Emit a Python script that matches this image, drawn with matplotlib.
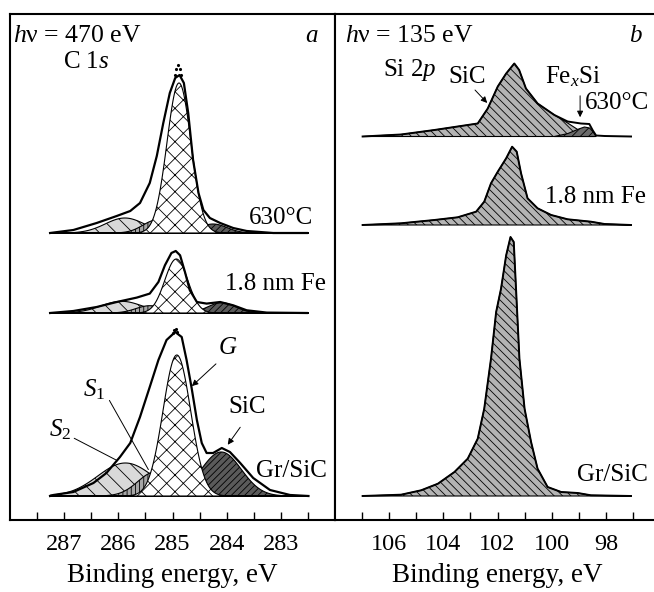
import numpy as np
import matplotlib
matplotlib.use('Agg')
import matplotlib.pyplot as plt

plt.rcParams['font.family'] = ['Liberation Serif', 'DejaVu Serif']
plt.rcParams['mathtext.fontset'] = 'custom'
plt.rcParams['mathtext.rm'] = 'Liberation Serif'
plt.rcParams['mathtext.it'] = 'Liberation Serif:italic'
plt.rcParams['hatch.linewidth'] = 0.6

#-----------------------------------------------------------------------
# C 1s spectra (panel a): binding energy (eV), intensity above baseline (a.u.)
E_c_gr = [287.26, 287.2, 286.83, 286.46, 286.22, 285.97, 285.78, 285.6, 285.42, 285.26,
          285.11, 284.95, 284.83, 284.74, 284.65, 284.55, 284.46, 284.37, 284.25, 284.09,
          283.94, 283.75, 283.51, 283.2, 282.83, 282.49]
I_c_gr = [0, 1, 4, 13, 23, 39, 53, 79, 109, 136, 156, 164, 159, 136, 109, 76, 53, 43, 43, 48,
          44, 33, 18, 6, 1, 0]
E_c_fe = [287.26, 286.83, 286.4, 286.03, 285.66, 285.42, 285.26, 285.14, 285.02, 284.94,
          284.86, 284.77, 284.68, 284.55, 284.37, 284.12, 283.88, 283.63, 283.26, 282.52]
I_c_fe = [0, 2, 6, 11, 15.4, 19.4, 31, 47.7, 60, 62, 57.7, 41, 22.7, 11, 9.4, 11, 7.7, 2.7, 0.4, 0]
E_c_630 = [287.26, 286.83, 286.4, 286.03, 285.78, 285.6, 285.42, 285.29, 285.17, 285.05,
           284.95, 284.87, 284.79, 284.71, 284.62, 284.52, 284.43, 284.31, 284.12, 283.88,
           283.63, 283.14, 282.52]
I_c_630 = [0, 3, 10, 17, 22, 30, 50, 77, 110, 140, 155, 158, 150, 120, 73, 40, 23, 15, 10, 5,
           2, 0, 0]

# measured points standing above the fit at the peak tops
E_dots_gr = [285.0, 284.97, 284.94, 284.91]
I_dots_gr = [163, 166, 167, 164]
E_dots_630 = [284.96, 284.93, 284.90, 284.87, 284.84]
I_dots_630 = [158, 164, 168, 164, 158]

# fitted components, order: S2, S1, SiC, G
comp_center_gr = [285.87, 285.32, 284.10, 284.92]
comp_fwhm_gr = [1.20, 0.75, 0.87, 0.60]
comp_height_gr = [33, 24, 44, 141]
comp_center_fe = [285.94, 285.42, 284.09, 284.93]
comp_fwhm_fe = [0.90, 0.60, 0.60, 0.50]
comp_height_fe = [11.7, 7.3, 10.3, 54]
comp_center_630 = [285.88, 285.29, 284.25, 284.88]
comp_fwhm_630 = [0.85, 0.60, 0.60, 0.52]
comp_height_630 = [15, 13, 9, 150]

c1s_offsets = [24, 207, 287]

#-----------------------------------------------------------------------
# Si 2p spectra (panel b)
E_s_gr = [106.98, 105.56, 104.82, 104.2, 103.59, 103.1, 102.73, 102.49, 102.24, 102.05,
          101.87, 101.68, 101.52, 101.4, 101.31, 101.19, 101.0, 100.76, 100.52, 100.15,
          99.65, 99.04, 98.55, 97.07]
I_s_gr = [0, 1.3, 5.7, 12.3, 24, 37.3, 57.3, 87.3, 137.3, 184, 207.3, 240.7, 259, 254, 204,
          137.3, 87.3, 54, 27.3, 9, 4, 3, 0.7, 0]
E_s_fe = [106.98, 105.56, 104.33, 103.47, 102.79, 102.49, 102.24, 101.99, 101.68, 101.46,
          101.29, 101.13, 100.89, 100.52, 100.02, 99.41, 98.55, 98.05, 97.07]
I_s_fe = [0, 1.7, 5, 7.7, 13.3, 23.3, 41.7, 53.3, 66.7, 78.3, 73.3, 51.7, 26.7, 16.7, 10, 5.7,
          3.3, 1, 0]
E_s_630 = [106.98, 105.56, 104.33, 103.47, 102.73, 102.36, 101.99, 101.68, 101.38, 101.2,
           100.95, 100.52, 99.9, 99.41, 98.92, 98.61, 98.48, 98.36, 98.05, 97.07]
I_s_630 = [0, 2, 6.5, 10, 13, 28, 50, 63, 73, 66.5, 48, 33, 21.5, 15, 13, 12.5, 6, 1, 0.5, 0]
E_sic_630 = [106.98, 105.56, 104.33, 103.47, 102.73, 102.36, 101.99, 101.68, 101.38, 101.2,
             100.95, 100.52, 99.9, 99.41, 99.04, 98.67, 98.42]
I_sic_630 = [0, 2, 6.5, 10, 13, 28, 50, 63, 73, 66.5, 48, 33, 21.5, 13.5, 7, 2, 0]
E_fexsi_630 = [99.9, 99.4, 99.0, 98.79, 98.6, 98.45, 98.36]
I_fexsi_630 = [0, 3, 7.5, 9.5, 8.5, 4, 0]

si_offsets = [24, 295, 383.5]

#-----------------------------------------------------------------------
def gauss(E, c, w, h):
    return h*np.exp(-4*np.log(2)*(E-c)**2/w**2)

comp_face = ['#d9d9d9', '#a6a6a6', '#5a5a5a', 'white']
comp_hatch = ['\\\\', '||||', '/////', 'xx']

fig = plt.figure(figsize=(6.54, 5.92), dpi=100)
axa = fig.add_axes([10/654, 72/592, 325/654, 506/592])
axb = fig.add_axes([335/654, 72/592, 325/654, 506/592])

Eg = np.linspace(287.26, 282.49, 500)
c1s_env = [(E_c_gr, I_c_gr), (E_c_fe, I_c_fe), (E_c_630, I_c_630)]
c1s_comp = [(comp_center_gr, comp_fwhm_gr, comp_height_gr),
            (comp_center_fe, comp_fwhm_fe, comp_height_fe),
            (comp_center_630, comp_fwhm_630, comp_height_630)]
for (Ee, Ie), (cc, ww, hh), off in zip(c1s_env, c1s_comp, c1s_offsets):
    for i in range(4):
        y = gauss(Eg, cc[i], ww[i], hh[i]) + off
        axa.fill_between(Eg, off, y, facecolor=comp_face[i], edgecolor='k',
                         hatch=comp_hatch[i], lw=0.8, zorder=2+i)
    axa.plot(Ee, np.array(Ie)+off, color='k', lw=1.6, zorder=10)
axa.plot(E_dots_gr, np.array(I_dots_gr)+c1s_offsets[0], 'k.', ms=2.5, zorder=11)
axa.plot(E_dots_630, np.array(I_dots_630)+c1s_offsets[2], 'k.', ms=2.5, zorder=11)

si_env = [(E_s_gr, I_s_gr), (E_s_fe, I_s_fe)]
for (Ee, Ie), off in zip(si_env, si_offsets[:2]):
    axb.fill_between(Ee, off, np.array(Ie)+off, facecolor='#b4b4b4', edgecolor='k',
                     hatch='\\\\\\\\', lw=0.8, zorder=2)
    axb.plot(Ee, np.array(Ie)+off, color='k', lw=1.4, zorder=10)
off = si_offsets[2]
axb.fill_between(E_sic_630, off, np.array(I_sic_630)+off, facecolor='#b4b4b4',
                 edgecolor='k', hatch='\\\\\\\\', lw=0.8, zorder=2)
axb.fill_between(E_fexsi_630, off, np.array(I_fexsi_630)+off, facecolor='#6a6a6a',
                 edgecolor='k', hatch='////', lw=0.8, zorder=3)
axb.plot(E_s_630, np.array(I_s_630)+off, color='k', lw=1.4, zorder=10)

#-----------------------------------------------------------------------
fs = 18
axa.set_xlim(288, 282)
axb.set_xlim(108, 96)
for ax in (axa, axb):
    ax.set_ylim(0, 506)
    ax.set_yticks([])
    ax.tick_params(axis='x', which='both', direction='in', length=5.5, width=1,
                   labelsize=17.5, pad=10, top=False)
    for s in ax.spines.values():
        s.set_linewidth(1.5)
    ax.set_xlabel('Binding energy, eV', fontsize=19.5, labelpad=6)
axb.spines['right'].set_visible(False)

axa.set_xticks([287, 286, 285, 284, 283])
axa.set_xticks([287.5, 286.5, 285.5, 284.5, 283.5, 282.5], minor=True)
axb.set_xticks([106, 104, 102, 100, 98])
axb.set_xticks([107, 105, 103, 101, 99, 97], minor=True)

ta = axa.transAxes
axa.text(0.01, 0.957, r'$h$ν = 470 eV', transform=ta, fontsize=18.5, va='center')
axa.text(0.93, 0.957, r'$a$', transform=ta, fontsize=fs, va='center', ha='center')
axa.text(0.163, 0.905, r'C 1$s$', transform=ta, fontsize=fs, va='center')
axa.text(0.932, 0.597, '630°C', transform=ta, fontsize=fs, va='center', ha='right')
axa.text(0.972, 0.466, '1.8 nm Fe', transform=ta, fontsize=fs, va='center', ha='right')
axa.text(0.975, 0.097, 'Gr/SiC', transform=ta, fontsize=fs, va='center', ha='right')
axa.text(0.671, 0.34, r'$G$', transform=ta, fontsize=fs, va='center', ha='center')
axa.text(0.729, 0.223, 'SiC', transform=ta, fontsize=fs, va='center', ha='center')
axa.text(0.26, 0.257, r'$S_1$', transform=ta, fontsize=fs, va='center', ha='center')
axa.text(0.154, 0.178, r'$S_2$', transform=ta, fontsize=fs, va='center', ha='center')

arr = dict(arrowstyle='-|>', color='k', lw=0.7, mutation_scale=9)
ln = dict(arrowstyle='-', color='k', lw=0.7)
axa.annotate('', xy=(284.68, 132), xytext=(284.16, 158), arrowprops=arr, zorder=12)
axa.annotate('', xy=(284.01, 73), xytext=(283.72, 95), arrowprops=arr, zorder=12)
axa.annotate('', xy=(285.42, 48), xytext=(286.19, 122), arrowprops=ln, zorder=12)
axa.annotate('', xy=(285.97, 58), xytext=(286.86, 83), arrowprops=ln, zorder=12)

tb = axb.transAxes
axb.text(0.031, 0.957, r'$h$ν = 135 eV', transform=tb, fontsize=18.5, va='center')
axb.text(0.926, 0.957, r'$b$', transform=tb, fontsize=fs, va='center', ha='center')
axb.text(0.148, 0.889, r'Si 2$p$', transform=tb, fontsize=fs, va='center')
axb.text(0.407, 0.875, 'SiC', transform=tb, fontsize=fs, va='center', ha='center')
axb.text(0.731, 0.877, r'Fe$_x$Si', transform=tb, fontsize=fs, va='center', ha='center')
axb.text(0.966, 0.824, '630°C', transform=tb, fontsize=fs, va='center', ha='right')
axb.text(0.957, 0.638, '1.8 nm Fe', transform=tb, fontsize=fs, va='center', ha='right')
axb.text(0.962, 0.089, 'Gr/SiC', transform=tb, fontsize=fs, va='center', ha='right')
axb.annotate('', xy=(102.31, 415), xytext=(102.9, 432), arrowprops=arr, zorder=12)
axb.annotate('', xy=(98.95, 400), xytext=(98.95, 427), arrowprops=arr, zorder=12)

plt.savefig('out.png', dpi=100)
